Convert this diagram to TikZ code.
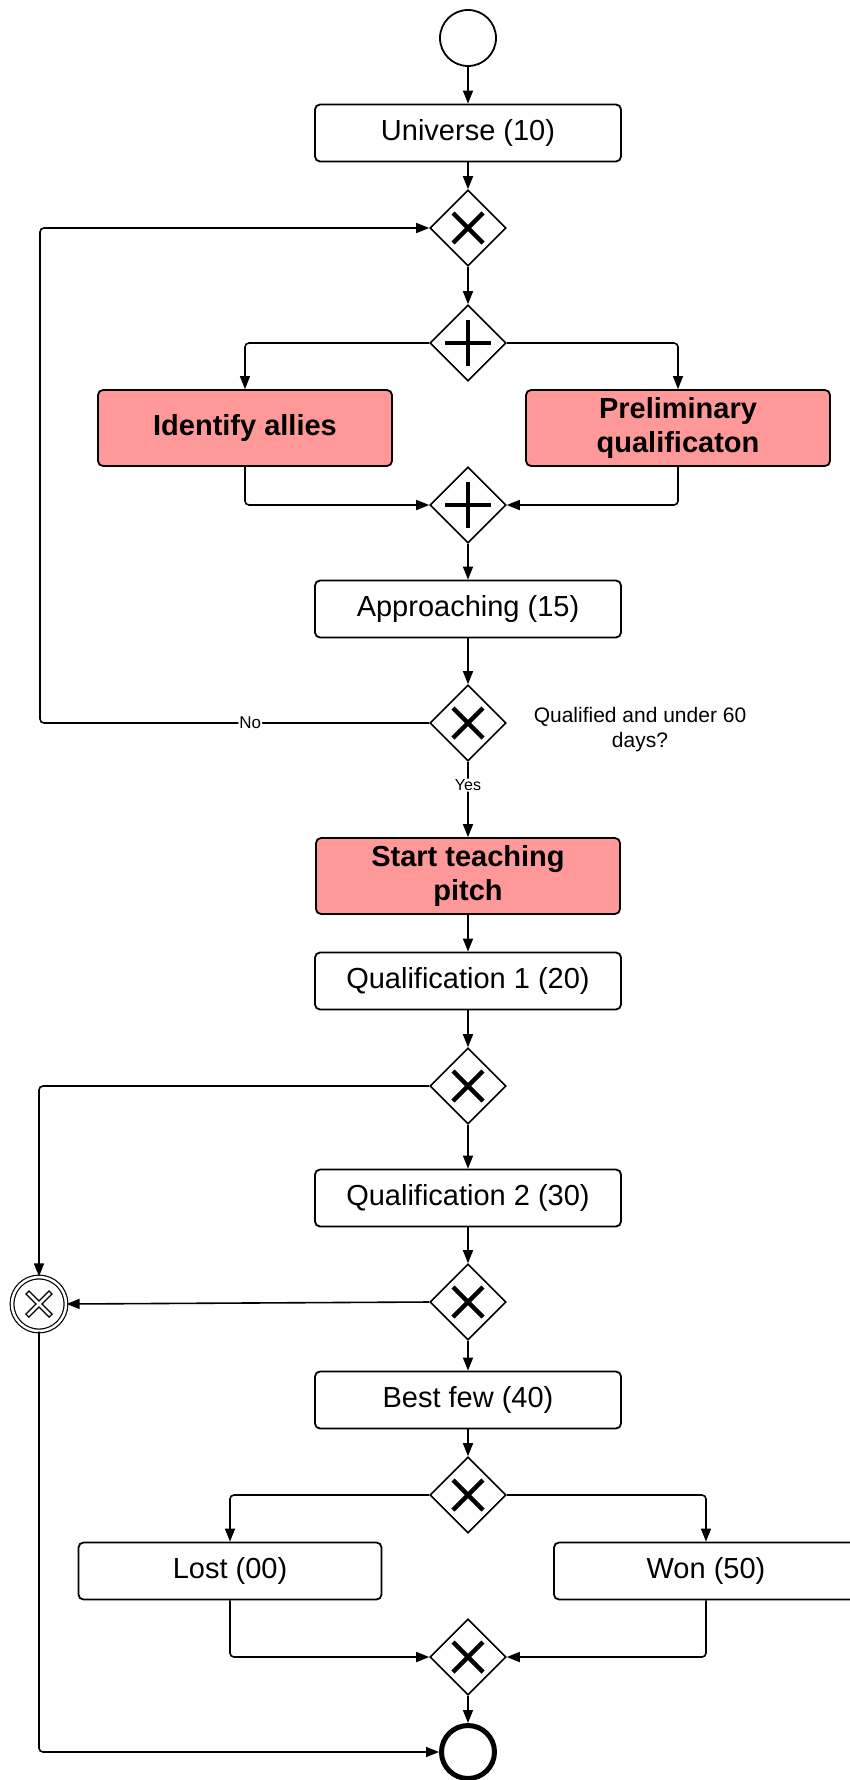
\documentclass[tikz,border=0pt]{standalone}
\usepackage{fontspec}
\setmainfont{Liberation Sans}
\usetikzlibrary{shapes.geometric,arrows.meta}

\definecolor{rosa}{HTML}{FF9999}

\tikzset{
  >={Triangle[length=13pt,width=10pt]},
  linea/.style={line width=1.6pt, rounded corners=4pt},
  attivita/.style={draw, line width=1.8pt, rounded corners=5pt, minimum width=306pt, minimum height=57pt, inner sep=0pt, font=\fontsize{29}{34}\selectfont},
  compito/.style={attivita, fill=rosa, minimum width=304pt, minimum height=76pt, align=center, font=\fontsize{29}{34}\selectfont\bfseries},
  porta/.style={diamond, draw, fill=white, line width=1.6pt, minimum width=76pt, minimum height=76pt, inner sep=0pt},
  portax/.style={porta, path picture={
      \draw[line width=4.4pt] ([shift={(-15pt,-15pt)}]path picture bounding box.center) -- ([shift={(15pt,15pt)}]path picture bounding box.center)
        ([shift={(-15pt,15pt)}]path picture bounding box.center) -- ([shift={(15pt,-15pt)}]path picture bounding box.center);}},
  portapiu/.style={porta, path picture={
      \draw[line width=4.2pt] ([shift={(-23pt,0pt)}]path picture bounding box.center) -- ([shift={(23pt,0pt)}]path picture bounding box.center)
        ([shift={(0pt,-23pt)}]path picture bounding box.center) -- ([shift={(0pt,23pt)}]path picture bounding box.center);}},
  annullo/.style={circle, draw, line width=1.2pt, double, double distance=2.5pt, minimum size=54pt, inner sep=0pt, path picture={
      \draw[line width=5.6pt] ([shift={(-12pt,-12pt)}]path picture bounding box.center) -- ([shift={(12pt,12pt)}]path picture bounding box.center)
        ([shift={(-12pt,12pt)}]path picture bounding box.center) -- ([shift={(12pt,-12pt)}]path picture bounding box.center);
      \draw[white, line width=2.8pt] ([shift={(-11pt,-11pt)}]path picture bounding box.center) -- ([shift={(11pt,11pt)}]path picture bounding box.center)
        ([shift={(-11pt,11pt)}]path picture bounding box.center) -- ([shift={(11pt,-11pt)}]path picture bounding box.center);}},
  etichetta/.style={fill=white, inner sep=1pt},
}

\begin{document}
\begin{tikzpicture}[x=1pt,y=-1pt]
    \useasboundingbox (0,0) rectangle (850,1780);
    \clip (0,0) rectangle (850,1780);

    % Eventi e attivita
    \node[circle, draw, line width=1.8pt, minimum size=56pt] (inizio) at (468,38) {};
    \node[attivita] (universo) at (468,133) {Universe (10)};
    \node[portax] (g1) at (468,228) {};
    \node[portapiu] (g2) at (468,343) {};
    \node[compito, minimum width=294pt] (alleati) at (245,428) {Identify allies};
    \node[compito] (prelim) at (678,428) {Preliminary\\qualificaton};
    \node[portapiu] (g3) at (468,505) {};
    \node[attivita] (approccio) at (468,609) {Approaching (15)};
    \node[portax] (g4) at (468,723) {};
    \node[align=center, font=\fontsize{21}{25}\selectfont] (domanda) at (640,730) {Qualified and under 60\\days?};
    \node[compito] (pitch) at (468,876) {Start teaching\\pitch};
    \node[attivita] (qual1) at (468,981) {Qualification 1 (20)};
    \node[portax] (g5) at (468,1086) {};
    \node[attivita] (qual2) at (468,1198) {Qualification 2 (30)};
    \node[portax] (g6) at (468,1302) {};
    \node[annullo] (annulla) at (39,1304) {};
    \node[attivita] (migliori) at (468,1400) {Best few (40)};
    \node[portax] (g7) at (468,1495) {};
    \node[attivita, minimum width=303pt] (perso) at (230,1571) {Lost (00)};
    \node[attivita, minimum width=304pt] (vinto) at (706,1571) {Won (50)};
    \node[portax] (g8) at (468,1657) {};
    \node[circle, draw, line width=5pt, minimum size=53pt] (fine) at (468,1752) {};

    \coordinate (svoltaNo) at (40,723);

    % Collegamenti
    \draw[linea,->] (inizio.south) -- (universo.north);
    \draw[linea,->] (universo.south) -- (g1.north);
    \draw[linea,->] (g1.south) -- (g2.north);
    \draw[linea,->] (g2.west) -| (alleati.north);
    \draw[linea,->] (g2.east) -| (prelim.north);
    \draw[linea,->] (alleati.south) |- (g3.west);
    \draw[linea,->] (prelim.south) |- (g3.east);
    \draw[linea,->] (g3.south) -- (approccio.north);
    \draw[linea,->] (approccio.south) -- (g4.north);
    \draw[linea,->] (g4.west) -- node[etichetta, pos=0.46, font=\fontsize{17}{20}\selectfont] {No} (svoltaNo) |- (g1.west);
    \draw[linea,->] (g4.south) -- node[etichetta, pos=0.31, font=\fontsize{16}{19}\selectfont] {Yes} (pitch.north);
    \draw[linea,->] (pitch.south) -- (qual1.north);
    \draw[linea,->] (qual1.south) -- (g5.north);
    \draw[linea,->] (g5.west) -| (annulla.north);
    \draw[linea,->] (g5.south) -- (qual2.north);
    \draw[linea,->] (qual2.south) -- (g6.north);
    \draw[linea,->] (g6.west) -- (annulla.east);
    \draw[linea,->] (g6.south) -- (migliori.north);
    \draw[linea,->] (migliori.south) -- (g7.north);
    \draw[linea,->] (g7.west) -| (perso.north);
    \draw[linea,->] (g7.east) -| (vinto.north);
    \draw[linea,->] (perso.south) |- (g8.west);
    \draw[linea,->] (vinto.south) |- (g8.east);
    \draw[linea,->] (g8.south) -- (fine.north);
    \draw[linea,->] (annulla.south) |- (fine.west);
\end{tikzpicture}
\end{document}
